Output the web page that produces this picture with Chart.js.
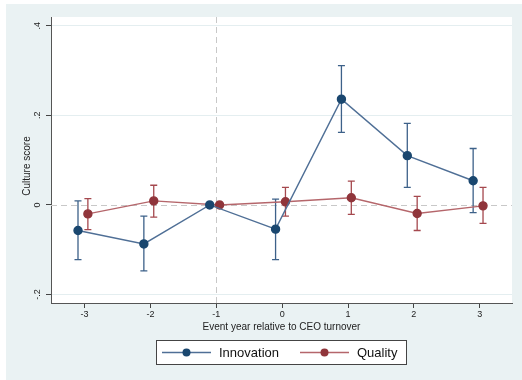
<!DOCTYPE html>
<html>
<head>
<meta charset="utf-8">
<script src="https://cdn.jsdelivr.net/npm/chart.js@4/dist/chart.umd.min.js"></script>
<style>
  html, body { margin: 0; padding: 0; background: #fff; }
  #wrap { width: 522px; height: 380px; }
</style>
</head>
<body>
<div id="wrap"><canvas id="c"></canvas></div>
<script>
// event years relative to CEO turnover
const years = [-3, -2, -1, 0, 1, 2, 3]

// coefficient estimates and 95% CI
const innovation   = [-0.057, -0.087, 0, -0.054, 0.236, 0.110, 0.054]
const innovationLo = [-0.122, -0.147, 0, -0.122, 0.162, 0.039, -0.017]
const innovationHi = [0.009, -0.025, 0, 0.013, 0.311, 0.182, 0.126]

const quality   = [-0.020, 0.009, 0, 0.007, 0.016, -0.019, -0.002]
const qualityLo = [-0.055, -0.027, 0, -0.025, -0.021, -0.057, -0.041]
const qualityHi = [0.014, 0.044, 0, 0.039, 0.053, 0.019, 0.039]

const yTicks = [-0.2, 0, 0.2, 0.4]
const yTickLabels = ['-.2', '0', '.2', '.4']

const NAVY = '#1a476f'
const MAROON = '#90353b'
const FONT = '"Liberation Sans", Arial, Helvetica, sans-serif'

const points = (ys, lo, hi, shift) =>
  years.map((x, i) => ({ x: x + shift, y: ys[i], lo: lo[i], hi: hi[i] }))

const stataLook = {
  id: 'stataLook',
  beforeDraw(chart) {
    const { ctx, chartArea: a, scales } = chart
    ctx.save()
    ctx.fillStyle = '#eaf2f3'
    ctx.fillRect(6, 4, chart.width - 6, chart.height - 4)
    ctx.fillStyle = '#fff'
    ctx.fillRect(a.left, a.top, a.right - a.left, a.bottom - a.top)
    ctx.restore()
  },
  beforeDatasetsDraw(chart) {
    const { ctx, chartArea: a, scales } = chart
    ctx.save()
    ctx.strokeStyle = '#c8c8c8'
    ctx.lineWidth = 1
    ctx.setLineDash([6, 4])
    const y0 = Math.round(scales.y.getPixelForValue(0)) + 0.5
    ctx.beginPath()
    ctx.moveTo(a.left, y0)
    ctx.lineTo(a.right, y0)
    ctx.stroke()
    const xr = Math.round(scales.x.getPixelForValue(-1)) + 0.5
    ctx.beginPath()
    ctx.moveTo(xr, a.top)
    ctx.lineTo(xr, a.bottom)
    ctx.stroke()
    ctx.setLineDash([])

    // error bars
    chart.data.datasets.forEach(ds => {
      ctx.strokeStyle = ds.barColor
      ctx.lineWidth = 1.3
      ds.data.forEach(p => {
        if (p.lo === p.hi) return
        const x = scales.x.getPixelForValue(p.x)
        const yl = scales.y.getPixelForValue(p.lo)
        const yh = scales.y.getPixelForValue(p.hi)
        ctx.beginPath()
        ctx.moveTo(x, yl); ctx.lineTo(x, yh)
        ctx.moveTo(x - 3.5, yl); ctx.lineTo(x + 3.5, yl)
        ctx.moveTo(x - 3.5, yh); ctx.lineTo(x + 3.5, yh)
        ctx.stroke()
      })
    })
    ctx.restore()
  },
  afterDraw(chart) {
    const { ctx, chartArea: a, scales } = chart
    ctx.save()
    ctx.fillStyle = '#222'

    // y tick labels, rotated
    ctx.font = '9px ' + FONT
    ctx.textAlign = 'center'
    ctx.textBaseline = 'middle'
    yTicks.forEach((v, i) => {
      ctx.save()
      ctx.translate(38, scales.y.getPixelForValue(v))
      ctx.rotate(-Math.PI / 2)
      ctx.fillText(yTickLabels[i], 0, 0)
      ctx.restore()
    })

    // axis titles
    ctx.font = '10px ' + FONT
    ctx.save()
    ctx.translate(27, (a.top + a.bottom) / 2 + 6)
    ctx.rotate(-Math.PI / 2)
    ctx.fillText('Culture score', 0, 0)
    ctx.restore()
    ctx.fillText('Event year relative to CEO turnover', (a.left + a.right) / 2, 327)

    // legend box
    ctx.fillStyle = '#fff'
    ctx.fillRect(156, 340, 250, 24)
    ctx.strokeStyle = '#444'
    ctx.lineWidth = 1
    ctx.strokeRect(156.5, 340.5, 250, 24)
    const items = [
      { label: 'Innovation', line: '#4f6f96', dot: NAVY, x0: 162 },
      { label: 'Quality', line: '#b5666b', dot: MAROON, x0: 300 }
    ]
    ctx.font = '13px ' + FONT
    ctx.textAlign = 'left'
    items.forEach(it => {
      ctx.strokeStyle = it.line
      ctx.lineWidth = 1.3
      ctx.beginPath()
      ctx.moveTo(it.x0, 352.5); ctx.lineTo(it.x0 + 49, 352.5)
      ctx.stroke()
      ctx.fillStyle = it.dot
      ctx.beginPath()
      ctx.arc(it.x0 + 24.5, 352.5, 4, 0, Math.PI * 2)
      ctx.fill()
      ctx.fillStyle = '#111'
      ctx.fillText(it.label, it.x0 + 57, 353)
    })
    ctx.restore()
  }
}

new Chart(document.getElementById('c'), {
  type: 'line',
  data: {
    datasets: [
      {
        label: 'Innovation',
        data: points(innovation, innovationLo, innovationHi, -0.1),
        borderColor: '#4f6f96',
        barColor: '#3d6189',
        backgroundColor: NAVY,
        pointBackgroundColor: NAVY,
        pointBorderColor: NAVY,
        pointRadius: 4,
        borderWidth: 1.4,
        tension: 0
      },
      {
        label: 'Quality',
        data: points(quality, qualityLo, qualityHi, 0.05),
        borderColor: '#b5666b',
        barColor: '#a5484e',
        backgroundColor: MAROON,
        pointBackgroundColor: MAROON,
        pointBorderColor: MAROON,
        pointRadius: 4,
        borderWidth: 1.4,
        tension: 0
      }
    ]
  },
  options: {
    responsive: true,
    maintainAspectRatio: false,
    animation: false,
    layout: { padding: { left: 0, top: 17, right: 10, bottom: 0 } },
    plugins: { legend: { display: false }, tooltip: { enabled: false } },
    scales: {
      x: {
        type: 'linear',
        min: -3.51,
        max: 3.49,
        afterBuildTicks: s => { s.ticks = years.map(v => ({ value: v })) },
        afterFit: s => { s.height = 77 },
        grid: { drawOnChartArea: false, tickLength: 5, tickColor: '#444' },
        border: { color: '#555', width: 1 },
        ticks: {
          color: '#222',
          padding: 1,
          maxRotation: 0,
          font: { family: FONT, size: 9 }
        }
      },
      y: {
        min: -0.2188,
        max: 0.4194,
        afterBuildTicks: s => { s.ticks = yTicks.map(v => ({ value: v })) },
        afterFit: s => { s.width = 51 },
        grid: {
          color: ctx => ctx.tick && ctx.tick.value === 0 ? 'rgba(0,0,0,0)' : '#e4eef0',
          tickLength: 5,
          tickColor: '#444'
        },
        border: { color: '#555', width: 1 },
        ticks: { display: false }
      }
    }
  },
  plugins: [stataLook]
})
</script>
</body>
</html>
